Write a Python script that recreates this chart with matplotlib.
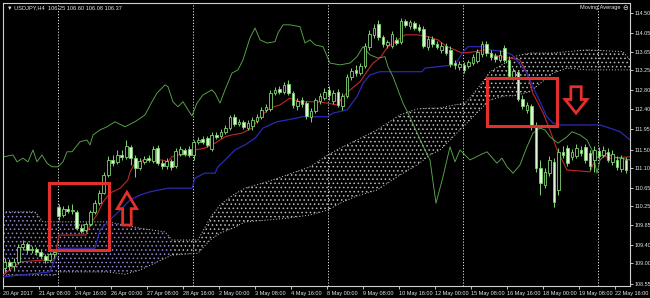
import matplotlib.pyplot as plt
from matplotlib.patches import Rectangle, FancyArrow
import numpy as np

# USDJPY H4, 20 Apr - 22 May 2017
opens = [108.89, 109.03, 108.94, 109.03, 109.36, 109.42, 109.29, 109.31, 109.25, 109.16,
         109.07, 109.20, 110.24, 110.06, 110.19, 110.15, 110.13, 109.77, 109.73, 109.86,
         110.13, 110.32, 110.54, 110.94, 111.27, 111.23, 111.38, 111.34, 111.56, 111.31,
         111.09, 111.23, 111.31, 111.25, 111.53, 111.20, 111.14, 111.25, 111.14, 111.40,
         111.49, 111.51, 111.38, 111.67, 111.73, 111.75, 111.51, 111.82, 111.80, 111.89,
         111.97, 112.22, 112.06, 112.11, 111.97, 112.02, 112.13, 112.22, 112.37, 112.39,
         112.74, 112.83, 112.77, 112.94, 112.74, 112.46, 112.59, 112.52, 112.22, 112.35,
         112.57, 112.63, 112.81, 112.57, 112.77, 112.46, 112.68, 113.10, 113.25, 113.18,
         113.34, 113.76, 114.02, 114.26, 113.98, 113.80, 113.78, 113.91, 113.87, 114.33,
         114.22, 114.28, 114.20, 114.15, 113.76, 113.93, 113.82, 113.69, 113.78, 113.69,
         113.40, 113.32, 113.36, 113.34, 113.40, 113.45, 113.60, 113.82, 113.62, 113.56,
         113.47, 113.73, 113.47, 113.10, 113.21, 112.61, 112.37, 112.46, 112.02, 111.09,
         110.72, 110.98, 111.23, 110.61, 111.45, 111.53, 111.34, 111.36, 111.49, 111.56,
         111.42, 111.27, 111.47, 111.38, 111.45, 111.23, 111.27, 111.07, 111.27]
closes = [109.03, 108.94, 109.03, 109.36, 109.42, 109.29, 109.31, 109.25, 109.16, 109.07,
          109.20, 109.25, 110.04, 110.19, 110.15, 110.17, 109.77, 109.71, 109.86, 110.13,
          110.32, 110.54, 110.94, 111.27, 111.20, 111.38, 111.34, 111.58, 111.31, 111.09,
          111.25, 111.29, 111.27, 111.51, 111.20, 111.14, 111.25, 111.12, 111.47, 111.51,
          111.40, 111.38, 111.67, 111.71, 111.67, 111.60, 111.82, 111.78, 111.89, 111.97,
          112.22, 112.06, 112.11, 112.00, 112.08, 112.15, 112.22, 112.37, 112.44, 112.74,
          112.81, 112.77, 112.92, 112.74, 112.48, 112.57, 112.50, 112.24, 112.35, 112.59,
          112.68, 112.77, 112.70, 112.74, 112.48, 112.68, 113.10, 113.23, 113.18, 113.34,
          113.78, 114.04, 114.17, 113.98, 113.82, 113.87, 114.04, 113.84, 114.33, 114.24,
          114.31, 114.17, 114.13, 113.78, 113.93, 113.82, 113.76, 113.78, 113.62, 113.38,
          113.36, 113.38, 113.25, 113.43, 113.54, 113.65, 113.82, 113.62, 113.54, 113.49,
          113.58, 113.47, 113.12, 113.23, 112.61, 112.46, 112.48, 112.02, 111.09, 110.76,
          111.01, 111.27, 110.35, 111.45, 111.38, 111.20, 111.45, 111.53, 111.42, 111.27,
          111.14, 111.49, 111.36, 111.49, 111.27, 111.40, 111.12, 111.31, 111.05]
highs = [109.11, 109.09, 109.11, 109.42, 109.51, 109.47, 109.38, 109.36, 109.29, 109.20,
         109.25, 109.29, 110.30, 110.26, 110.28, 110.30, 110.17, 109.86, 109.91, 110.17,
         110.39, 110.61, 111.01, 111.36, 111.38, 111.49, 111.49, 111.71, 111.60, 111.38,
         111.31, 111.36, 111.38, 111.58, 111.60, 111.27, 111.31, 111.29, 111.53, 111.58,
         111.53, 111.58, 111.71, 111.78, 111.80, 111.80, 111.89, 111.89, 111.95, 112.04,
         112.26, 112.28, 112.17, 112.15, 112.15, 112.22, 112.28, 112.44, 112.50, 112.81,
         112.88, 112.90, 112.99, 113.03, 112.79, 112.63, 112.66, 112.57, 112.41, 112.63,
         112.74, 112.85, 112.90, 112.81, 112.83, 112.74, 113.16, 113.29, 113.36, 113.40,
         113.84, 114.13, 114.26, 114.35, 114.02, 113.91, 114.11, 113.98, 114.39, 114.37,
         114.35, 114.33, 114.26, 114.22, 114.00, 114.00, 113.89, 113.87, 113.84, 113.78,
         113.47, 113.45, 113.43, 113.47, 113.60, 113.71, 113.89, 113.89, 113.69, 113.62,
         113.69, 113.80, 113.56, 113.29, 113.25, 112.70, 112.55, 112.50, 112.11, 111.27,
         111.09, 111.36, 111.31, 111.53, 111.58, 111.60, 111.51, 111.62, 111.58, 111.62,
         111.49, 111.58, 111.56, 111.58, 111.53, 111.49, 111.36, 111.38, 111.34]
lows = [108.81, 108.85, 108.85, 108.98, 109.29, 109.22, 109.22, 109.18, 109.11, 109.00,
        109.03, 109.11, 109.95, 110.02, 110.10, 110.08, 109.73, 109.66, 109.69, 109.82,
        110.08, 110.28, 110.52, 110.90, 111.14, 111.18, 111.27, 111.29, 111.16, 110.90,
        111.05, 111.18, 111.23, 111.20, 111.16, 111.07, 111.07, 111.05, 111.09, 111.36,
        111.36, 111.34, 111.27, 111.62, 111.62, 111.56, 111.47, 111.73, 111.75, 111.84,
        111.93, 112.02, 112.02, 111.95, 111.93, 111.93, 112.08, 112.17, 112.33, 112.35,
        112.70, 112.72, 112.72, 112.70, 112.41, 112.37, 112.44, 112.17, 112.11, 112.30,
        112.50, 112.59, 112.59, 112.50, 112.44, 112.37, 112.63, 113.03, 113.12, 113.14,
        113.29, 113.69, 113.95, 113.91, 113.76, 113.73, 113.73, 113.80, 113.82, 114.20,
        114.15, 114.13, 114.09, 113.73, 113.69, 113.76, 113.71, 113.62, 113.58, 113.32,
        113.27, 113.25, 113.18, 113.29, 113.36, 113.40, 113.54, 113.56, 113.47, 113.43,
        113.43, 113.43, 113.07, 113.03, 112.57, 112.39, 112.30, 111.93, 111.01, 110.50,
        110.65, 110.92, 110.24, 110.50, 111.31, 111.14, 111.27, 111.31, 111.36, 111.20,
        111.05, 111.01, 111.29, 111.34, 111.23, 111.16, 111.05, 111.01, 110.98]

# Ichimoku lines, vertices at bar positions
tenkan_x = [-0.44, 3.33, 8.44, 11, 12, 18, 18.9, 20.4, 21.8, 23.3, 25.6, 27.3, 27.8, 28.9,
            31.1, 34.9, 36.2, 37.1, 38.4, 41.6, 42.2, 44.4, 46.7, 48.9, 50.4, 52.7, 54.9,
            56.7, 58.9, 61.1, 63.3, 65.6, 69.3, 71.6, 73.8, 75.1, 76.7, 78.9, 80.4, 81.8,
            83.3, 85.1, 87.3, 88.9, 91.8, 94.0, 96.2, 98.2, 100, 101.6, 104.4, 106.7, 108.2,
            110.4, 114.4, 116, 117.3, 119.6, 121.1, 122.7, 124.9, 130, 131.1, 132.2, 134.4,
            138.9]
tenkan = [108.74, 109.03, 109.07, 109.07, 109.62, 109.62, 109.84, 110.06, 110.35, 110.54,
          110.65, 110.83, 111.01, 111.20, 111.27, 111.27, 111.23, 111.34, 111.38, 111.38,
          111.49, 111.53, 111.64, 111.78, 111.82, 111.86, 111.97, 112.22, 112.41, 112.48,
          112.63, 112.55, 112.55, 112.52, 112.48, 112.66, 112.81, 112.99, 113.21, 113.40,
          113.51, 113.76, 113.91, 114.02, 114.02, 113.98, 113.91, 113.76, 113.69, 113.62,
          113.65, 113.69, 113.58, 113.54, 113.47, 113.18, 112.74, 112.30, 111.93, 111.49,
          111.05, 111.01, 111.27, 111.38, 111.31, 111.34]
kijun_x = [-0.44, 10, 12, 20, 21.1, 23.3, 25.6, 27.8, 30, 32.2, 36.2, 41.6, 42.2, 44.4, 46.7,
           47.3, 48.9, 51.1, 53.3, 55.6, 57.3, 60.4, 62.7, 66.2, 71.6, 72.9, 76, 78.2, 79.6,
           81.1, 83.3, 92.7, 93.3, 100, 101.6, 102.9, 106.7, 107.8, 111.1, 112.7, 116, 117.3,
           118.9, 120.4, 121.8, 123.3, 132.2, 134.4, 136.7, 138.9]
kijun = [108.70, 108.81, 109.33, 109.33, 109.73, 109.95, 110.17, 110.39, 110.50, 110.57,
         110.65, 110.65, 110.87, 110.98, 110.98, 111.12, 111.27, 111.49, 111.60, 111.75,
         111.97, 112.11, 112.15, 112.22, 112.22, 112.30, 112.37, 112.66, 112.96, 113.14,
         113.21, 113.21, 113.29, 113.36, 113.62, 113.76, 113.76, 113.69, 113.65, 113.58,
         113.18, 112.88, 112.55, 112.22, 112.08, 112.04, 112.04, 111.97, 111.89, 111.71]
chikou_x = [-0.22, 1.78, 2.67, 4, 5.11, 6.22, 7.11, 8.22, 9.33, 10.44,
            11.78, 12.89, 13.78, 14.89, 16.67, 18.22, 18.89, 19.56, 21.11, 22.67,
            24.44, 26.67, 28.89, 31.11, 32.67, 33.78, 35.56, 36.22, 37.33, 38.44,
            39.56, 40.67, 41.56, 42.67, 44, 46, 46.67, 47.78, 48.89, 50.44,
            51.78, 52.89, 54.44, 55.56, 56.67, 58.22, 60, 60.67, 61.78, 63.33,
            65.56, 66.67, 67.78, 68.89, 70.67, 72.22, 74.44, 76.67, 78.22, 79.56,
            81.11, 82.89, 84.44, 85.11, 86.22, 87.33, 88.44, 89.56, 91.78, 93.33,
            94.44, 95.78, 97.33, 98.89, 100, 101.11, 103.33, 105.56, 107.11, 109.33,
            110.44, 111.56, 112.89, 114.44, 116, 117.33, 118.89, 120, 121.11, 122.89,
            124.89, 126, 127.78, 129.33, 130.44, 131.56, 132.22, 133.78, 135.11, 136.67,
            138.89]
chikou = [111.34, 111.38, 111.23, 111.31, 111.23, 111.49, 111.23, 111.38, 111.20, 111.12,
          111.12, 111.23, 111.45, 111.45, 111.67, 111.71, 111.60, 111.82, 111.93, 112.00,
          112.11, 112.00, 112.11, 112.26, 112.55, 112.74, 112.92, 112.88, 112.55, 112.44,
          112.55, 112.37, 112.24, 112.52, 112.70, 112.81, 112.74, 112.52, 112.81, 113.18,
          113.25, 113.47, 113.95, 114.17, 113.91, 113.84, 113.87, 114.06, 114.24, 114.24,
          114.20, 113.84, 113.91, 113.80, 113.76, 113.40, 113.36, 113.40, 113.54, 113.76,
          113.58, 113.51, 113.54, 113.32, 113.10, 112.81, 112.52, 112.30, 111.82, 111.49,
          111.27, 110.32, 110.90, 111.56, 111.23, 111.49, 111.27, 111.38, 111.45, 111.20,
          111.31, 111.12, 110.98, 111.16, 111.56, 111.86, 111.97, 111.93, 111.78, 111.64,
          111.78, 111.89, 111.82, 111.71, 111.49, 110.98, 111.27, 111.42, 111.34, 111.31,
          111.27]

# cloud edges (senkou spans)
cloud_x = [-0.44, 6.67, 8.44, 11.11, 12.22, 22.67, 26.67, 30, 35.56, 37.11,
           42.89, 45.56, 47.78, 50.67, 53.33, 58.22, 62.67, 67.78, 71.78, 74.44,
           78.22, 82.67, 87.78, 91.56, 94.44, 96.67, 98.89, 102.22, 103.33, 106.22,
           107.78, 111.11, 112.89, 116.67, 121.78, 124.89, 129.33, 137.33, 138.89]
cloud_top = [110.13, 110.13, 109.91, 109.91, 109.91, 109.91, 109.84, 109.77, 109.69, 109.51,
             109.51, 109.99, 110.28, 110.50, 110.65, 110.79, 110.94, 111.12, 111.38, 111.53,
             111.71, 111.93, 112.26, 112.39, 112.41, 112.41, 112.46, 112.52, 112.63, 112.99,
             113.21, 113.40, 113.54, 113.62, 113.62, 113.65, 113.69, 113.65, 113.47]
cloud_bot = [108.74, 108.74, 108.74, 108.74, 108.81, 108.81, 108.76, 108.85, 109.11, 109.18,
             109.22, 109.51, 109.66, 109.77, 109.91, 109.95, 109.99, 110.06, 110.17, 110.32,
             110.48, 110.61, 110.94, 111.16, 111.38, 111.49, 111.71, 112.04, 112.15, 112.44,
             112.59, 112.68, 112.68, 112.77, 113.18, 113.29, 113.25, 113.25, 113.25]

date_labels = ["20 Apr 2017", "21 Apr 08:00", "24 Apr 16:00", "26 Apr 00:00", "27 Apr 08:00",
               "28 Apr 16:00", "2 May 00:00", "3 May 08:00", "4 May 16:00", "8 May 00:00",
               "9 May 08:00", "10 May 16:00", "12 May 00:00", "15 May 08:00", "16 May 16:00",
               "18 May 00:00", "19 May 08:00", "22 May 16:00"]
price_ticks = [114.50, 114.05, 113.65, 113.25, 112.80, 112.40, 111.95, 111.50, 111.10,
               110.65, 110.25, 109.85, 109.40, 109.00, 108.55]
week_starts = [12, 42, 72, 102, 132]

plt.rcParams["font.family"] = ["Liberation Sans Narrow", "Liberation Sans", "DejaVu Sans"]
plt.rcParams["hatch.linewidth"] = 0.6

txt = "#e6e6e6"
red = "#e3302c"
green = "#7fd46f"

fig = plt.figure(figsize=(6.5, 2.98), dpi=100, facecolor="black")
ax = fig.add_axes([3 / 650, 12 / 298, 627 / 650, 283 / 298], facecolor="black")
ax.set_xlim(-0.44, 138.89)
ax.set_ylim(108.50, 114.72)

# kumo
ax.fill_between(cloud_x[:10], cloud_top[:10], cloud_bot[:10], facecolor="none",
                edgecolor="#9686cc", hatch="....", linewidth=0, zorder=1)
ax.fill_between(cloud_x[9:], cloud_top[9:], cloud_bot[9:], facecolor="none",
                edgecolor="#bdbdbd", hatch="....", linewidth=0, zorder=1)
ax.plot(cloud_x, cloud_top, color="#d0d0d0", lw=0.7, ls=(0, (1, 2)), zorder=1)
ax.plot(cloud_x, cloud_bot, color="#d0d0d0", lw=0.7, ls=(0, (1, 2)), zorder=1)

# weekly separators
for w in week_starts:
    ax.axvline(w - 0.3, color="#e0e0e0", lw=0.7, ls=(0, (1.2, 1.8)), zorder=2)

ax.plot(tenkan_x, tenkan, color="#c0282a", lw=0.8, zorder=3)
ax.plot(kijun_x, kijun, color="#2a2ab4", lw=0.9, zorder=3)
ax.plot(chikou_x, chikou, color="#5aa84c", lw=0.65, zorder=3)

# candles
o = np.array(opens)
c = np.array(closes)
bars = np.arange(len(c))
ax.vlines(bars, lows, highs, color=green, lw=0.7, zorder=4)
face = np.where(c >= o, "black", "#daf5d2")
ax.bar(bars, np.maximum(np.abs(c - o), 0.01), bottom=np.minimum(o, c), width=0.66,
       color=face, edgecolor=green, linewidth=0.6, zorder=5)

# red marks
for x0, x1, y0, y1 in [(9.78, 23.1, 109.29, 110.76), (107.1, 122.7, 112.02, 113.07)]:
    ax.add_patch(Rectangle((x0, y0), x1 - x0, y1 - y0, fill=False, edgecolor=red,
                           lw=2.2, zorder=6))
ax.add_patch(FancyArrow(27.1, 109.84, 0, 0.72, width=1.9, head_width=4.3, head_length=0.36,
                        length_includes_head=True, fill=False, edgecolor=red, lw=2.0, zorder=6))
ax.add_patch(FancyArrow(126.9, 112.88, 0, -0.58, width=2.3, head_width=4.9, head_length=0.3,
                        length_includes_head=True, fill=False, edgecolor=red, lw=2.0, zorder=6))

for s in ax.spines.values():
    s.set_color("#cfcfcf")
    s.set_linewidth(0.8)

ax.yaxis.tick_right()
ax.set_yticks(price_ticks)
ax.set_yticklabels([f"{p:.2f}" for p in price_ticks])
ax.tick_params(axis="y", colors=txt, labelsize=3.9, length=2, width=0.6, pad=1)
ax.set_xticks([8 * i - 0.44 for i in range(len(date_labels))])
ax.set_xticklabels(date_labels, ha="left")
ax.tick_params(axis="x", colors=txt, labelsize=4.0, length=2.5, width=0.6, pad=1)

fig.text(7 / 650, 1 - 8 / 298, "\u25bc USDJPY,H4  106.25 106.60 106.08 106.37",
         color=txt, fontsize=4.1, va="center")
fig.text(620 / 650, 1 - 8 / 298, "Moving Average", color=txt, fontsize=4.1,
         va="center", ha="right")
fig.text(625 / 650, 1 - 8 / 298, "\u2296", color=txt, fontsize=4.8, va="center",
         ha="center", family="DejaVu Sans")

fig.savefig("out.png", dpi=100, facecolor="black")
